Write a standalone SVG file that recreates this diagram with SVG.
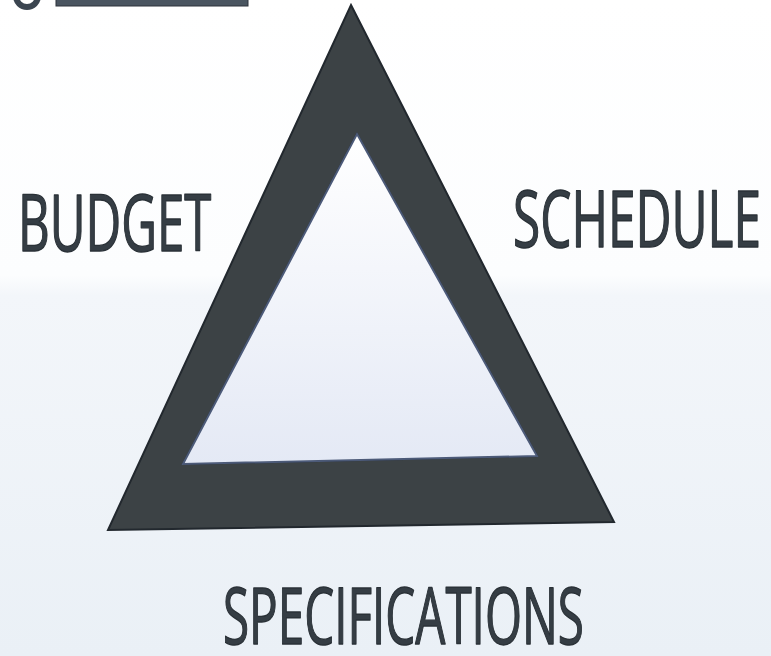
<svg xmlns="http://www.w3.org/2000/svg" width="771" height="656" viewBox="0 0 771 656">
<defs>
<linearGradient id="bg" x1="0" y1="0" x2="0" y2="1">
<stop offset="0" stop-color="#ffffff"/>
<stop offset="0.42" stop-color="#fcfdfe"/>
<stop offset="0.45" stop-color="#f3f6fa"/>
<stop offset="1" stop-color="#eaf0f6"/>
</linearGradient>
<linearGradient id="inner" x1="0" y1="0" x2="0" y2="1">
<stop offset="0" stop-color="#ffffff"/>
<stop offset="1" stop-color="#e4e9f5"/>
</linearGradient>
</defs>
<style>
.lbl{font-family:"Open Sans","DejaVu Sans",sans-serif;fill:#353d44;stroke:#2a3137;stroke-width:1.4;stroke-linejoin:round;font-size:79px;font-weight:400}
</style>
<rect width="771" height="656" fill="url(#bg)"/>
<g id="fragment">
<circle cx="27" cy="-4" r="11" fill="none" stroke="#3b4550" stroke-width="6"/>
<rect x="56" y="-2" width="192" height="8" fill="#4a5560" stroke="#2c333a" stroke-width="1"/>
</g>
<g id="triangle">
<path d="M351,5 L614,522 L108,530 Z M357,134 L183,464 L537,456 Z" fill="#3c4245" fill-rule="evenodd" stroke="#22282e" stroke-width="2" stroke-linejoin="miter"/>
<path d="M357,134 L537,456 L183,464 Z" fill="url(#inner)" stroke="#4c5a78" stroke-width="2"/>
</g>
<g id="budget"><text class="lbl" transform="translate(18,251) scale(0.62,1)" x="0" y="0" textLength="312" lengthAdjust="spacingAndGlyphs">BUDGET</text></g>
<g id="schedule"><text class="lbl" transform="translate(513,247) scale(0.62,1)" x="0" y="0" textLength="400" lengthAdjust="spacingAndGlyphs">SCHEDULE</text></g>
<g id="specifications"><text class="lbl" transform="translate(223,644) scale(0.62,1)" x="0" y="0" textLength="582" lengthAdjust="spacingAndGlyphs">SPECIFICATIONS</text></g>
<g id="connectors"></g>
</svg>
